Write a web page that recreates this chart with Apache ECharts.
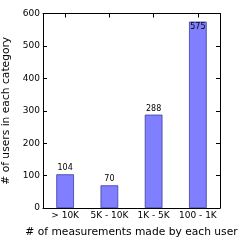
<!DOCTYPE html>
<html><head><meta charset="utf-8">
<script src="https://cdn.jsdelivr.net/npm/echarts@6/dist/echarts.min.js"></script>
<style>html,body{margin:0;padding:0;background:#fff}#c{width:243px;height:243px}</style>
</head><body><div id="c"></div>
<script>
const categories = ['> 10K', '5K - 10K', '1K - 5K', '100 - 1K'];
const values = [104, 70, 288, 575];
const yTicks = [0, 100, 200, 300, 400, 500, 600];

const chart = echarts.init(document.getElementById('c'), null, {renderer: 'canvas'});
const font = 'DejaVu Sans';
chart.setOption({
  animation: false,
  grid: {left: 43, right: 23, top: 13.5, bottom: 35, containLabel: false, outerBoundsMode: 'none'},
  xAxis: [{
    type: 'category', data: categories, position: 'bottom',
    axisLine: {show: true, onZero: false, lineStyle: {color: '#000', width: 1}},
    axisTick: {show: false},
    axisLabel: {color: '#000', fontFamily: font, fontSize: 9, margin: 3, interval: 0},
    name: '# of measurements made by each user', nameLocation: 'middle', nameGap: 19,
    nameTextStyle: {color: '#000', fontFamily: font, fontSize: 10.7}
  }, {
    type: 'category', data: categories, position: 'top',
    axisLine: {show: true, onZero: false, lineStyle: {color: '#000', width: 1}},
    axisTick: {show: true, inside: true, alignWithLabel: true, interval: 0, length: 4, lineStyle: {color: '#000', width: 1}},
    axisLabel: {show: false}
  }],
  yAxis: [{
    type: 'value', min: 0, max: 600, interval: 100, position: 'left',
    axisLine: {show: true, onZero: false, lineStyle: {color: '#000', width: 1}},
    axisTick: {show: true, inside: true, length: 4, lineStyle: {color: '#000'}},
    splitLine: {show: false},
    axisLabel: {color: '#000', fontFamily: font, fontSize: 9, margin: 3,
      formatter: v => yTicks.includes(v) ? String(v) : ''},
    name: '# of users in each category', nameLocation: 'middle', nameGap: 25,
    nameTextStyle: {color: '#000', fontFamily: font, fontSize: 10.7}
  }, {
    type: 'value', min: 0, max: 600, interval: 100, position: 'right',
    axisLine: {show: true, onZero: false, lineStyle: {color: '#000', width: 1}},
    axisTick: {show: true, inside: true, length: 4, lineStyle: {color: '#000'}},
    splitLine: {show: false},
    axisLabel: {show: false}
  }],
  series: [{
    type: 'bar',
    data: values.map((v, i) => i === values.length - 1 ?
      {value: v, label: {position: 'insideTop', distance: 1}} : v),
    barWidth: '40%',
    itemStyle: {color: '#7f7fff', borderColor: '#3f3f9f', borderWidth: 0.8},
    label: {show: true, position: 'top', distance: 2, color: '#000', fontFamily: font, fontSize: 8}
  }, {
    type: 'line', xAxisIndex: 1, yAxisIndex: 1, data: values,
    showSymbol: false, silent: true, lineStyle: {opacity: 0}, z: 0
  }]
});
</script></body></html>
